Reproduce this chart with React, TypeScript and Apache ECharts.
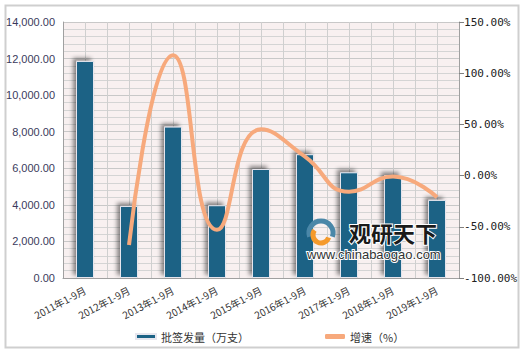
import React, { useEffect, useRef } from "react";
import * as echarts from "echarts";

const categories = [
  "2011年1-9月",
  "2012年1-9月",
  "2013年1-9月",
  "2014年1-9月",
  "2015年1-9月",
  "2016年1-9月",
  "2017年1-9月",
  "2018年1-9月",
  "2019年1-9月",
];
const volume = [11870, 3940, 8280, 3980, 5960, 6770, 5780, 5630, 4270];
const growth: (number | null)[] = [null, -67.8, 117.5, -53.0, 45.2, 18.5, -15.7, -1.0, -21.2];
const leftTicks = { min: 0, max: 14000, interval: 2000 };
const rightTicks = { min: -100, max: 150, interval: 50 };
const subBands = Array.from({ length: categories.length * 2 }, (_, i) => String(i));

export default function App() {
  const ref = useRef<HTMLDivElement>(null);
  useEffect(() => {
    if (!ref.current) return;
    const chart = echarts.init(ref.current, undefined, { renderer: "svg" });
    chart.setOption({
      animation: false,
      backgroundColor: "#ffffff",
      grid: {
        left: 63,
        right: 56,
        top: 22,
        bottom: 73,
        show: true,
        backgroundColor: "#F8F0F0",
        borderWidth: 0,
      },
      legend: {
        left: 130,
        top: 326,
        itemWidth: 20,
        itemHeight: 5,
        itemGap: 76,
        textStyle: { fontSize: 11, color: "#333", fontFamily: "Noto Sans CJK SC" },
        data: [
          { name: "批签发量（万支）", icon: "rect" },
          { name: "增速（%）", icon: "roundRect" },
        ],
      },
      xAxis: [
        {
          type: "category",
          data: categories,
          axisLine: { show: true, lineStyle: { color: "#a0a0a0" } },
          axisTick: { show: false },
          splitLine: { show: false },
          axisLabel: {
            rotate: 28,
            interval: 0,
            margin: 11,
            fontSize: 10,
            color: "#333",
            fontFamily: "Noto Sans CJK SC",
          },
        },
        {
          type: "category",
          data: subBands,
          position: "bottom",
          axisLine: { show: false },
          axisTick: { show: false },
          axisLabel: { show: false },
          splitLine: { show: true, interval: 0, lineStyle: { color: "#cfcfcf", width: 1 } },
        },
      ],
      yAxis: [
        {
          type: "value",
          min: leftTicks.min,
          max: leftTicks.max,
          interval: leftTicks.interval,
          axisLine: { show: true, lineStyle: { color: "#a0a0a0" } },
          axisTick: { show: false },
          axisLabel: {
            fontSize: 11,
            color: "#3a3a5c",
            fontFamily: "Liberation Sans, Arial",
            margin: 8,
            formatter: (v: number) =>
              v.toLocaleString("en-US", { minimumFractionDigits: 2, maximumFractionDigits: 2 }),
          },
          splitLine: { show: true, lineStyle: { color: "#c8c8c8", width: 1 } },
          minorTick: { show: false, splitNumber: 5 },
          minorSplitLine: { show: true, lineStyle: { color: "#d4d4d4", width: 1 } },
        },
        {
          type: "value",
          min: rightTicks.min,
          max: rightTicks.max,
          interval: rightTicks.interval,
          position: "right",
          axisLine: { show: true, lineStyle: { color: "#a0a0a0" } },
          axisTick: { show: true, inside: false, length: 5, lineStyle: { color: "#808080" } },
          axisLabel: {
            fontSize: 11,
            color: "#222",
            fontFamily: "DejaVu Sans Mono, monospace",
            margin: 5,
            formatter: (v: number) => v.toFixed(2) + "%",
          },
          splitLine: { show: false },
        },
      ],
      series: [
        {
          name: "批签发量（万支）",
          type: "bar",
          data: volume,
          xAxisIndex: 0,
          yAxisIndex: 0,
          barWidth: 18,
          itemStyle: {
            color: "#1B6285",
            borderColor: "#e6e6ee",
            borderWidth: 1,
            shadowColor: "rgba(0,0,0,0.45)",
            shadowBlur: 4,
            shadowOffsetX: -3,
            shadowOffsetY: -3,
          },
          z: 2,
        },
        {
          name: "增速（%）",
          type: "line",
          data: growth,
          xAxisIndex: 0,
          yAxisIndex: 1,
          smooth: 0.5,
          symbol: "none",
          lineStyle: { color: "#F7A97C", width: 4 },
          itemStyle: { color: "#F7A97C" },
          z: 3,
        },
      ],
      graphic: [
        {
          type: "rect",
          left: 3,
          top: 3,
          shape: { width: 513, height: 342 },
          style: { fill: "none", stroke: "#cfcfcf", lineWidth: 2 },
          silent: true,
        },
        {
          type: "arc",
          x: 321,
          y: 233,
          z: 100,
          shape: { cx: 0, cy: 0, r: 12, startAngle: Math.PI * 0.9, endAngle: Math.PI * 2.1 },
          style: { stroke: "#4a87a8", lineWidth: 5, fill: "none" },
        },
        {
          type: "arc",
          x: 321,
          y: 235,
          z: 100,
          shape: { cx: 0, cy: 0, r: 8, startAngle: Math.PI * 0.1, endAngle: Math.PI * 1.2 },
          style: { stroke: "#f59a2c", lineWidth: 5, fill: "none" },
        },
        {
          type: "text",
          x: 349,
          y: 221,
          z: 100,
          style: {
            text: "观研天下",
            fontSize: 22,
            fontWeight: "bold",
            fill: "#1a1a1a",
            fontFamily: "Noto Sans CJK SC",
            stroke: "#ffffff",
            lineWidth: 2,
          },
        },
        {
          type: "text",
          x: 307,
          y: 248,
          z: 100,
          style: {
            text: "www.chinabaogao.com",
            fontSize: 13,
            fill: "#333",
            fontFamily: "Liberation Sans, Arial",
            stroke: "#ffffff",
            lineWidth: 2,
          },
        },
      ],
    });
    return () => chart.dispose();
  }, []);
  return (
    <div
      ref={ref}
      style={{ position: "fixed", left: 0, top: 0, width: 520, height: 351, background: "#fff" }}
    />
  );
}
